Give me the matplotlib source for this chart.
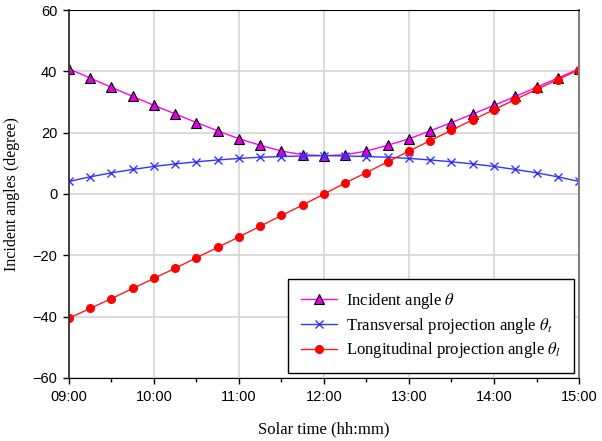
import numpy as np
import matplotlib
matplotlib.use('Agg')
import matplotlib.pyplot as plt
from matplotlib.ticker import MultipleLocator, FuncFormatter

plt.rcParams['mathtext.fontset'] = 'stix'

# solar time in hours, every 15 minutes from 09:00 to 15:00
hours = [9 + 0.25 * i for i in range(25)]

# incident angle theta (degree), morning half up to noon
incident_am = [40.8, 37.8, 34.8, 31.8, 28.9, 26.1, 23.3, 20.6, 18.0, 15.9, 14.0, 12.8, 12.5]
# transversal projection angle theta_t
transversal_am = [4.1, 5.6, 6.9, 8.0, 9.0, 9.8, 10.5, 11.1, 11.6, 12.0, 12.2, 12.4, 12.5]
# longitudinal projection angle theta_l
longitudinal_am = [-40.5, -37.3, -34.1, -30.8, -27.5, -24.2, -20.8, -17.4, -14.0, -10.5, -7.0, -3.6, 0.0]

incident = incident_am + incident_am[-2::-1]
transversal = transversal_am + transversal_am[-2::-1]
longitudinal = longitudinal_am + [-v for v in longitudinal_am[-2::-1]]

fig = plt.figure(figsize=(6.02, 4.41), dpi=100)
ax = fig.add_axes([0.1146, 0.1429, 0.8472, 0.8344])

ax.plot(hours, incident, color='#ff00ff', lw=1, marker='^', ms=7.5,
        mfc='#e000e0', mec='black', mew=0.8, label=r'Incident angle $\theta$')
ax.plot(hours, transversal, color='#3333ff', lw=1, marker='x', ms=6,
        mew=1, label=r'Transversal projection angle $\theta_t$')
ax.plot(hours, longitudinal, color='#ff1a1a', lw=1, marker='o', ms=5.5,
        mfc='#ff0000', mec='#ff0000', label=r'Longitudinal projection angle $\theta_l$')

ax.set_xlim(9, 15)
ax.set_ylim(-60, 60)
ax.xaxis.set_major_locator(MultipleLocator(1))
ax.xaxis.set_minor_locator(MultipleLocator(0.5))
ax.yaxis.set_major_locator(MultipleLocator(20))
ax.xaxis.set_major_formatter(FuncFormatter(lambda v, p: '%02d:00' % int(round(v))))
ax.grid(True, which='major', color='#d4d4d4', lw=1.2)
ax.set_axisbelow(True)

for lab in ax.get_xticklabels() + ax.get_yticklabels():
    lab.set_fontfamily('Liberation Sans')
    lab.set_fontsize(10.5)
ax.tick_params(which='major', length=4.5, width=1, direction='out', pad=4)
ax.tick_params(which='minor', length=3, width=1, direction='out')

ax.spines['left'].set_color('#333333')
ax.spines['right'].set_color('#808080')
ax.spines['right'].set_linewidth(1.5)
ax.spines['left'].set_linewidth(1.3)

ax.set_xlabel('Solar time (hh:mm)', fontfamily='Liberation Serif', fontsize=12, labelpad=13)
ax.set_ylabel('Incident angles (degree)', fontfamily='Liberation Serif', fontsize=11.5, labelpad=9)

leg = ax.legend(loc='lower right', bbox_to_anchor=(0.990, 0.0136), borderaxespad=0,
                fancybox=False, edgecolor='black', framealpha=1,
                handlelength=2.2, handletextpad=0.55,
                prop={'family': 'Liberation Serif', 'size': 12}, borderpad=0.75,
                labelspacing=0.28)
leg.get_frame().set_linewidth(1)

fig.savefig('out.png', dpi=100)
